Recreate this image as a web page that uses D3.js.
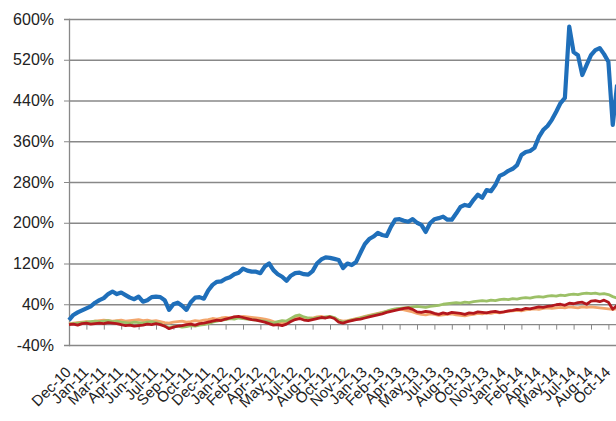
<!DOCTYPE html>
<html>
<head>
<meta charset="utf-8">
<script src="https://cdn.jsdelivr.net/npm/d3@7"></script>
<style>
  html, body { margin: 0; padding: 0; background: #fff; }
  svg text { font-family: "Liberation Sans", Arial, sans-serif; fill: #222; }
</style>
</head>
<body>
<svg class="line-chart" width="616" height="421"></svg>
<script>
// tick labels of the category axis, one every 4 samples
const xLabels = ["Dec-10", "Jan-11", "Mar-11", "Apr-11", "Jun-11", "Jul-11", "Sep-11", "Oct-11",
  "Dec-11", "Jan-12", "Feb-12", "Apr-12", "May-12", "Jul-12", "Aug-12", "Oct-12",
  "Nov-12", "Jan-13", "Feb-13", "Apr-13", "May-13", "Jul-13", "Aug-13", "Oct-13",
  "Nov-13", "Jan-14", "Feb-14", "Apr-14", "May-14", "Jul-14", "Aug-14", "Oct-14"];
const samplesPerLabel = 4;

const yTicks = [-40, 40, 120, 200, 280, 360, 440, 520, 600];

// cumulative return, %
const blueSeries = [
  9, 19, 24, 28, 32, 36, 43, 48, 52, 60,
  65, 60, 63, 58, 53, 50, 55, 45, 48, 54,
  55, 54, 48, 29, 40, 43, 37, 29, 44, 53,
  54, 51, 67, 78, 84, 85, 90, 93, 99, 102,
  110, 106, 104, 104, 101, 114, 120, 107, 99, 94,
  86, 96, 101, 102, 99, 98, 105, 120, 128, 132,
  131, 129, 127, 111, 120, 117, 123, 141, 158, 168,
  173, 180, 176, 174, 192, 206, 207, 204, 202, 207,
  200, 196, 182, 199, 207, 209, 212, 206, 206, 218,
  231, 235, 233, 245, 255, 249, 264, 262, 274, 292,
  296, 302, 306, 313, 333, 339, 341, 347, 368, 382,
  390, 402, 418, 435, 445, 585, 535, 529, 490, 510,
  529, 539, 543, 531, 516, 392, 471
];

const redSeries = [
  0, 1, -1, 2, 3, 1, 2, 3, 2, 4,
  3, 2, 0, -2, -1, -3, -2, -1, 1, 0,
  2, 0, -3, -8, -5, -3, -2, 0, 1, -1,
  2, 3, 5, 7, 9, 8, 11, 13, 15, 16,
  14, 12, 10, 9, 7, 5, 2, -1, 0, -2,
  1, 6, 10, 12, 9, 8, 10, 12, 14, 13,
  15, 12, 5, 3, 6, 8, 10, 11, 13, 15,
  17, 19, 21, 24, 26, 28, 30, 32, 33, 30,
  25, 24, 26, 25, 22, 20, 23, 21, 24, 23,
  22, 20, 23, 22, 25, 24, 23, 25, 26, 24,
  25, 27, 28, 30, 29, 32, 31, 33, 35, 34,
  36, 37, 39, 40, 38, 42, 41, 43, 44, 40,
  46, 47, 45, 48, 44, 30, 38
];

const orangeSeries = [
  2, 3, 4, 5, 6, 5, 7, 8, 9, 8,
  7, 8, 9, 7, 8, 9, 10, 8, 9, 7,
  8, 6, 4, 3, 5, 6, 7, 5, 6, 8,
  7, 9, 10, 12, 11, 13, 14, 13, 15, 14,
  16, 15, 14, 13, 12, 11, 9, 6, 4, 3,
  5, 9, 13, 16, 14, 12, 13, 15, 16, 14,
  15, 13, 9, 7, 8, 10, 12, 14, 16, 18,
  20, 22, 24, 26, 28, 30, 31, 29, 27, 25,
  22, 20, 19, 21, 20, 18, 19, 20, 21, 19,
  18, 17, 19, 20, 22, 21, 23, 22, 24, 23,
  25, 26, 27, 28, 27, 29, 30, 31, 30, 32,
  33, 32, 33, 34, 33, 35, 34, 33, 35, 34,
  35, 34, 33, 32, 31, 30, 31
];

const greenSeries = [
  1, 2, 3, 4, 5, 6, 7, 6, 7, 8,
  6, 7, 5, 4, 3, 5, 4, 3, 5, 6,
  4, 2, -3, -6, -4, -3, -5, -4, -2, -3,
  -1, 0, 2, 5, 7, 9, 10, 12, 11, 13,
  12, 11, 10, 9, 8, 7, 5, 3, 6, 8,
  7, 12, 17, 19, 15, 13, 12, 14, 13, 15,
  16, 14, 8, 5, 7, 9, 11, 13, 15, 17,
  19, 21, 23, 26, 29, 31, 32, 33, 34, 35,
  36, 35, 34, 36, 37, 38, 40, 41, 42, 43,
  42, 44, 43, 45, 46, 47, 46, 48, 47, 49,
  50, 49, 51, 50, 52, 53, 52, 54, 55, 54,
  56, 57, 56, 58, 57, 59, 60, 59, 61, 62,
  61, 62, 60, 61, 59, 55, 52
];

const width = 616;
const height = 421;
const margin = { top: 19, right: 0, bottom: 76, left: 69 };
const labelStep = 17.4;

const svg = d3.select(".line-chart");

const lastIndex = blueSeries.length - 1;
const x = d3.scaleLinear()
  .domain([0, lastIndex])
  .range([margin.left, margin.left + lastIndex * labelStep / samplesPerLabel]);

const y = d3.scaleLinear()
  .domain([-40, 600])
  .range([height - margin.bottom, margin.top]);

// horizontal gridlines + value axis
svg.append("g")
  .attr("transform", `translate(${margin.left},0)`)
  .call(d3.axisLeft(y)
    .tickValues(yTicks)
    .tickSize(5)
    .tickPadding(10)
    .tickFormat(d => d + "%"))
  .call(g => g.select(".domain").attr("stroke", "#888").attr("stroke-width", 1.3))
  .call(g => g.selectAll(".tick line").attr("stroke", "#888"))
  .call(g => g.selectAll(".tick text").attr("font-size", 16).attr("fill", "#222"))
  .call(g => g.selectAll(".tick").append("line")
    .attr("x1", 0)
    .attr("x2", width - margin.left)
    .attr("stroke", "#888")
    .attr("stroke-width", 1.3));

// category axis crossing at 0%
const tickIdx = xLabels.map((_, i) => i * samplesPerLabel);
svg.append("g")
  .attr("transform", `translate(0,${y(0)})`)
  .call(d3.axisBottom(x)
    .tickValues(tickIdx)
    .tickSize(5)
    .tickFormat(""))
  .call(g => g.select(".domain").attr("d", `M${margin.left},0H${width}`)
    .attr("stroke", "#888").attr("stroke-width", 1.3))
  .call(g => g.selectAll(".tick line").attr("stroke", "#888"));

// rotated labels at the bottom
svg.append("g")
  .selectAll("text")
  .data(xLabels)
  .join("text")
    .attr("transform", (d, i) => `translate(${x(tickIdx[i]) + 3},${y(-40) + 28}) rotate(-45)`)
    .attr("text-anchor", "end")
    .attr("font-size", 15)
    .text(d => d);

const line = d3.line()
  .x((d, i) => x(i))
  .y(d => y(d));

const series = [
  { values: orangeSeries, color: "#f3a66c", w: 2.8 },
  { values: greenSeries, color: "#9cc067", w: 2.8 },
  { values: redSeries, color: "#b3171d", w: 2.8 },
  { values: blueSeries, color: "#1f6fba", w: 4.2 }
];

svg.append("g")
  .selectAll("path")
  .data(series)
  .join("path")
    .attr("fill", "none")
    .attr("stroke", d => d.color)
    .attr("stroke-width", d => d.w)
    .attr("stroke-linejoin", "round")
    .attr("d", d => line(d.values));
</script>
</body>
</html>
